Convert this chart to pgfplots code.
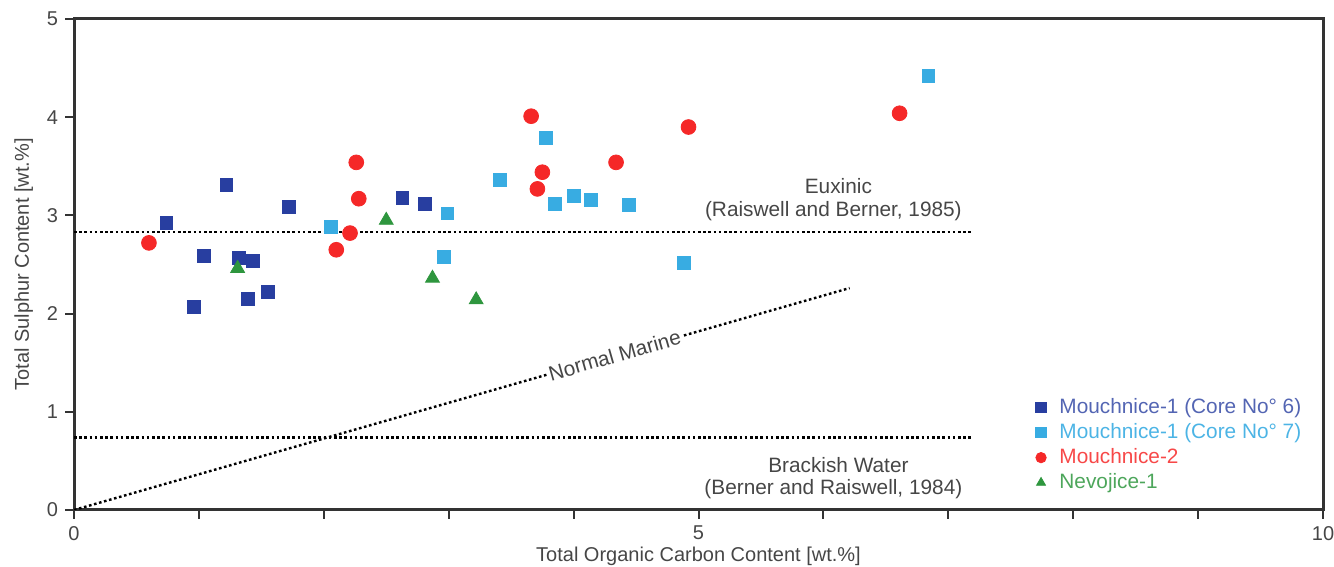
\documentclass[border=0pt]{standalone}
\usepackage{fontspec}
\setmainfont{Liberation Sans}
\usepackage{pgfplots}
\pgfplotsset{compat=1.18}
\definecolor{dblue}{RGB}{40,62,160}
\definecolor{lblue}{RGB}{56,172,226}
\definecolor{cred}{RGB}{245,40,40}
\definecolor{cgreen}{RGB}{46,150,62}
\definecolor{txt}{RGB}{70,70,70}

\begin{document}
\begin{tikzpicture}
\useasboundingbox (-37pt,-28.5pt) rectangle (630pt,255pt);
\begin{axis}[
  scale only axis, width=624.5pt, height=245.5pt,
  xmin=0, xmax=10, ymin=0, ymax=5,
  xtick={0,...,10}, xticklabels={0,,,,,5,,,,,10},
  ytick={0,...,5},
  tick pos=left, tick align=outside,
  major tick length=4.5pt,
  every tick/.style={line width=1pt, black!80},
  axis line style={line width=1.5pt, black!80},
  tick label style={font=\fontsize{10}{12}\selectfont, text=txt},
  /pgf/number format/assume math mode=true,
  xlabel={Total Organic Carbon Content [wt.\%]},
  ylabel={Total Sulphur Content [wt.\%]},
  label style={font=\fontsize{10}{12}\selectfont, text=txt},
  xlabel style={yshift=3.5pt},
  legend cell align=left,
  legend style={at={(0.764,0.230)}, anchor=north west, draw=none, fill=none,
    inner sep=0pt, row sep=2.5pt,
    font=\fontsize{10.4}{12}\selectfont,
    nodes={inner xsep=1pt, inner ysep=0.5pt}},
  legend image code/.code={\path (0pt,0pt) (14pt,0pt); \draw[mark size=2.6pt] plot coordinates {(6pt,0pt)};},
]
% reference lines
\addplot[black, line width=1.2pt, dash pattern=on 1.3pt off 1.3pt, forget plot] coordinates {(0,2.83) (7.19,2.83)};
\addplot[black, line width=1.2pt, dash pattern=on 1.3pt off 1.3pt, forget plot] coordinates {(0,0.74) (7.19,0.74)};
\addplot[black, line width=1.2pt, dash pattern=on 1.3pt off 1.3pt, forget plot] coordinates {(0,0) (6.21,2.26)}
  node[pos=0.697, sloped, fill=white, inner sep=1pt, font=\fontsize{10.4}{12}\selectfont, text=txt] {Normal Marine};

% Mouchnice-1 (Core No 6)
\addplot[only marks, mark=square*, mark size=3.2pt, color=dblue] coordinates {
(0.74,2.92) (1.22,3.31) (1.04,2.59) (0.96,2.07) (1.32,2.57) (1.43,2.54)
(1.39,2.15) (1.55,2.22) (1.72,3.09) (2.63,3.18) (2.81,3.12)};
\addlegendentry{\textcolor{dblue!80!white}{Mouchnice-1 (Core No° 6)}}
% Mouchnice-1 (Core No 7)
\addplot[only marks, mark=square*, mark size=3.2pt, color=lblue] coordinates {
(2.06,2.88) (2.99,3.02) (2.96,2.58) (3.41,3.36) (3.78,3.79) (3.85,3.12)
(4.00,3.20) (4.14,3.16) (4.44,3.11) (4.88,2.52) (6.84,4.42)};
\addlegendentry{\textcolor{lblue!90!white}{Mouchnice-1 (Core No° 7)}}
% Mouchnice-2
\addplot[only marks, mark=*, mark size=3.7pt, color=cred] coordinates {
(0.60,2.72) (2.26,3.54) (2.28,3.17) (2.21,2.82) (2.10,2.65) (3.66,4.01)
(3.75,3.44) (3.71,3.27) (4.34,3.54) (4.92,3.90) (6.61,4.04)};
\addlegendentry{\textcolor{cred!85!white}{Mouchnice-2}}
% Nevojice-1
\addplot[only marks, mark=triangle*, mark size=4pt, color=cgreen] coordinates {
(1.31,2.46) (2.50,2.95) (2.87,2.36) (3.22,2.14)};
\addlegendentry{\textcolor{cgreen!85!white}{Nevojice-1}}

\node[font=\fontsize{10.4}{12}\selectfont, text=txt] at (axis cs:6.12,3.30) {Euxinic};
\node[font=\fontsize{10.4}{12}\selectfont, text=txt] at (axis cs:6.08,3.04) {(Raiswell and Berner, 1985)};
\node[font=\fontsize{10.4}{12}\selectfont, text=txt] at (axis cs:6.12,0.46) {Brackish Water};
\node[font=\fontsize{10.4}{12}\selectfont, text=txt] at (axis cs:6.08,0.21) {(Berner and Raiswell, 1984)};
\end{axis}
\end{tikzpicture}
\end{document}
